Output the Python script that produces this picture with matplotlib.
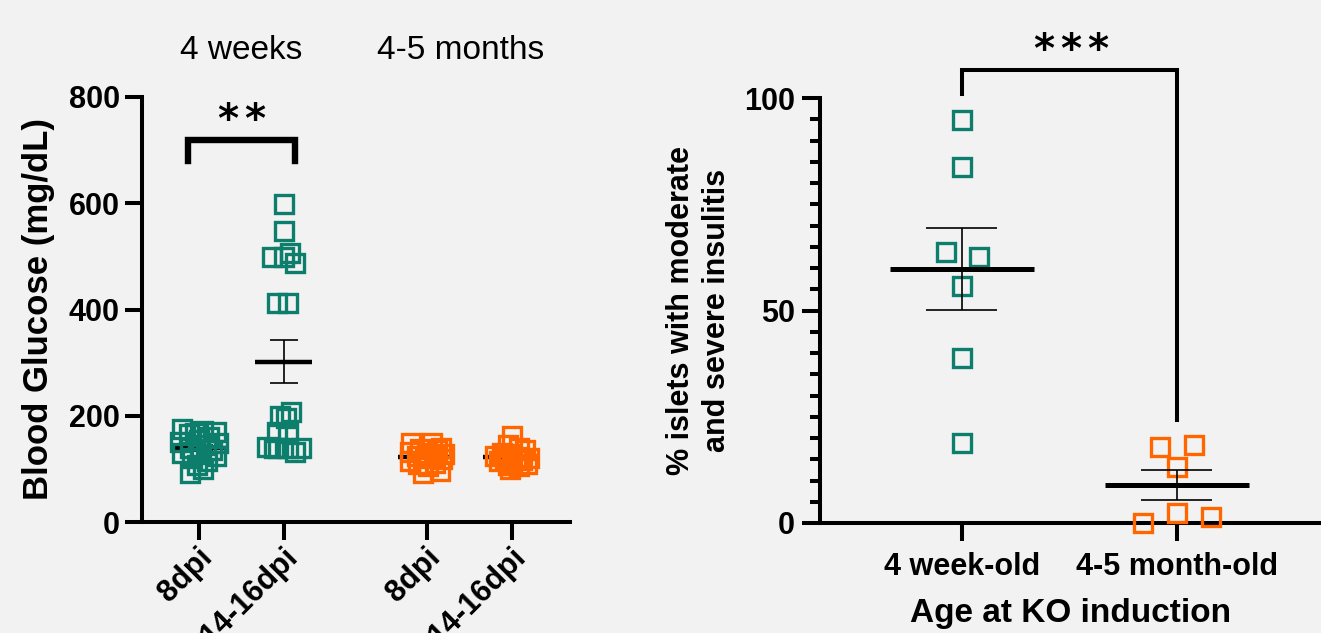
import numpy as np
import matplotlib.pyplot as plt
from matplotlib.ticker import MultipleLocator
from matplotlib.transforms import ScaledTranslation

plt.rcParams['font.family'] = ['Liberation Sans', 'DejaVu Sans']

TEAL = '#0d7e6c'
ORANGE = '#ff6600'
BG = '#f2f2f2'

# ---- left panel: blood glucose (mg/dL) ----
glu_cats = ['8dpi', '14-16dpi', '8dpi', '14-16dpi']
glu_groups = ['4 weeks', '4-5 months']
glu_wk_8 = [175, 172, 170, 168, 165, 160, 155, 150, 148, 145,
            140, 135, 130, 128, 125, 120, 115, 108, 100, 92]
glu_wk_14 = [599, 548, 499, 499, 506, 487, 412, 412,
             207, 200, 195, 170, 168, 142, 140, 139, 140, 132, 140]
glu_mo_8 = [148, 148, 140, 138, 135, 132, 130, 128, 125, 123,
            120, 118, 115, 112, 110, 105, 96, 92]
glu_mo_14 = [162, 145, 140, 135, 130, 125, 122, 120, 118, 116,
             114, 112, 110, 108, 105, 100]

# ---- right panel: % islets with moderate/severe insulitis ----
ins_cats = ['4 week-old', '4-5 month-old']
ins_wk = [94.8, 83.8, 63.8, 62.6, 55.8, 38.8, 18.8]
ins_mo = [17.9, 18.4, 13.2, 2.4, 1.4, 0.0]

# layout only: group positions and scatter jitter
glu_pos = [0, 1, 2.68, 3.68]
jit_wk_8 = [-0.2, 0.05, 0.2, -0.05, -0.12, 0.12, 0.0, -0.22, 0.22, 0.08,
            -0.1, 0.15, -0.2, 0.02, 0.2, -0.08, 0.1, -0.02, 0.05, -0.1]
jit_wk_14 = [0.0, 0.0, -0.14, 0.0, 0.07, 0.13, -0.08, 0.05,
             0.08, -0.05, 0.02, -0.08, 0.05, -0.2, -0.07, 0.05, 0.2, 0.13, -0.12]
jit_mo_8 = [-0.18, 0.06, 0.17, -0.08, 0.12, -0.2, 0.0, 0.2, -0.12, 0.08,
            -0.02, 0.18, -0.2, 0.1, -0.1, 0.02, 0.16, -0.05]
jit_mo_14 = [0.0, -0.05, 0.08, 0.15, -0.12, -0.2, 0.05, 0.2, -0.08, 0.12,
             -0.15, 0.0, 0.18, -0.05, 0.08, -0.02]
jit_ins_wk = [0, 0, -0.075, 0.08, 0, 0, 0]
jit_ins_mo = [-0.08, 0.08, 0, 0, 0.16, -0.16]

MS, MEW = 12.5, 2.4


def mean_sem(ax, x, vals, lw_mean, z):
    v = np.asarray(vals, dtype=float)
    m = v.mean()
    s = v.std(ddof=1) / np.sqrt(len(v))
    ax.hlines(m, x - 0.335, x + 0.335, color='k', lw=lw_mean, zorder=z)
    ax.vlines(x, m - s, m + s, color='k', lw=1.2, zorder=z)
    ax.hlines([m - s, m + s], x - 0.165, x + 0.165, color='k', lw=1.2, zorder=z)


def scatter(ax, x, vals, jit, color, z):
    ax.plot(np.asarray(jit) + x, vals, 's', ms=MS, mfc='none', mec=color,
            mew=MEW, clip_on=False, zorder=z)


def stars(ax, x, y, n):
    # each asterisk as its own glyph, ~27 px apart
    for i in range(n):
        dx = (i - (n - 1) / 2) * 19.5
        ax.annotate('*', (x, y), xytext=(dx, 0), textcoords='offset points',
                    ha='center', va='center', fontsize=29, fontweight='bold',
                    family='DejaVu Sans', annotation_clip=False)


def style(ax):
    ax.set_facecolor('none')
    for s in ('top', 'right'):
        ax.spines[s].set_visible(False)
    for s in ('left', 'bottom'):
        ax.spines[s].set_linewidth(2.9)
    ax.tick_params(axis='both', width=2.9, labelsize=22)
    for lab in ax.get_xticklabels() + ax.get_yticklabels():
        lab.set_fontweight('bold')


fig = plt.figure(figsize=(13.21, 6.33), dpi=100, facecolor=BG)

# ---------------- left ----------------
ax1 = fig.add_axes([142 / 1321, 111 / 633, 428 / 1321, 425 / 633])
ax1.set_xlim(-0.67, 4.365)
ax1.set_ylim(0, 800)
ax1.yaxis.set_major_locator(MultipleLocator(200))

groups = [(glu_wk_8, jit_wk_8, TEAL), (glu_wk_14, jit_wk_14, TEAL),
          (glu_mo_8, jit_mo_8, ORANGE), (glu_mo_14, jit_mo_14, ORANGE)]
for x, (vals, jit, col) in zip(glu_pos, groups):
    mean_sem(ax1, x, vals, 3.2, 2)
    scatter(ax1, x, vals, jit, col, 3)

ax1.set_xticks(glu_pos)
ax1.set_xticklabels(glu_cats, rotation=45, ha='right', va='center',
                    rotation_mode='anchor')
style(ax1)
ax1.tick_params(axis='y', length=12, pad=4)
ax1.tick_params(axis='x', length=13, pad=9)
shift = ScaledTranslation(9 / 100, 0, fig.dpi_scale_trans)
for lab in ax1.get_xticklabels():
    lab.set_transform(lab.get_transform() + shift)
ax1.set_ylabel('Blood Glucose (mg/dL)', fontsize=25, fontweight='bold')
ax1.yaxis.set_label_coords(-87 / 428, 0.5)

for x, g in zip([0.5, 3.08], glu_groups):
    ax1.text(x, 888, g, ha='center', va='center', fontsize=24, clip_on=False)

ax1.plot([-0.13, -0.13, 1.13, 1.13], [680, 720, 720, 680], color='k',
         lw=4.6, solid_joinstyle='miter', clip_on=False)
stars(ax1, 0.5, 755, 2)

# ---------------- right ----------------
ax2 = fig.add_axes([820 / 1321, 110 / 633, 501 / 1321, 425 / 633])
ax2.set_xlim(-0.66, 1.67)
ax2.set_ylim(0, 100)
ax2.yaxis.set_major_locator(MultipleLocator(50))
ax2.yaxis.set_minor_locator(MultipleLocator(5))

scatter(ax2, 0, ins_wk, jit_ins_wk, TEAL, 3)
scatter(ax2, 1, ins_mo, jit_ins_mo, ORANGE, 3)
mean_sem(ax2, 0, ins_wk, 3.6, 4)
mean_sem(ax2, 1, ins_mo, 3.6, 4)

ax2.set_xticks([0, 1])
ax2.set_xticklabels(ins_cats)
style(ax2)
ax2.tick_params(axis='y', which='major', length=13, pad=5)
ax2.tick_params(axis='y', which='minor', length=7, width=2.9)
ax2.tick_params(axis='x', length=13, pad=8)
ax2.set_ylabel('% islets with moderate\nand severe insulitis', fontsize=22,
               fontweight='bold', linespacing=1.25)
ax2.yaxis.set_label_coords(-88 / 501, 0.5)
ax2.set_xlabel('Age at KO induction', fontsize=24, fontweight='bold')
ax2.xaxis.set_label_coords(0.5, -75 / 425)

ax2.plot([0, 0, 1, 1], [100.9, 106.6, 106.6, 24.2], color='k', lw=2.9,
         solid_joinstyle='miter', clip_on=False)
stars(ax2, 0.507, 111.0, 3)

fig.savefig('out.png', dpi=100, facecolor=BG)
